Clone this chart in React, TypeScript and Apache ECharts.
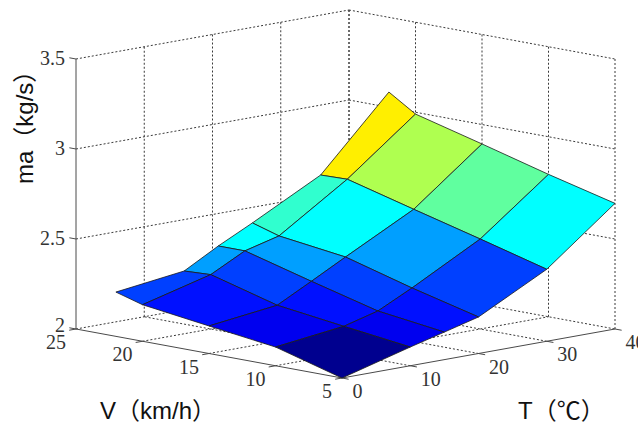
import React, { useEffect, useRef } from "react";
import * as echarts from "echarts";

// Data
const temperatures = [0, 10, 15, 20, 30, 40];
const speeds = [5, 10, 15, 20, 22];
const massFlowAtV5 = [2.0, 2.104, 2.153, 2.203, 2.4, 2.698];
const massFlowAtV10 = [2.104, 2.151, 2.202, 2.296, 2.5, 2.791];
const massFlowAtV15 = [2.153, 2.2, 2.299, 2.4, 2.597, 2.892];
const massFlowAtV20 = [2.203, 2.302, 2.4, 2.449, 2.696, 2.99];
const massFlowAtV22 = [2.246, 2.295, 2.4, 2.494, 2.692, 3.085];
const massFlow = [massFlowAtV5, massFlowAtV10, massFlowAtV15, massFlowAtV20, massFlowAtV22];

const tTicks = [0, 10, 20, 30, 40];
const vTicks = [5, 10, 15, 20, 25];
const zTicks = [2, 2.5, 3, 3.5];
const zTickLabels = ["2", "2.5", "3", "3.5"];
const zLabel = "ma（kg/s）";
const vLabel = "V（km/h）";
const tLabel = "T（℃）";

// View (camera) of the 3D box
const COLOR_MIN = 2;
const COLOR_MAX = 3.1;
const project = (t: number, v: number, z: number): number[] => [
  342 + 6.825 * t - 13.3 * (v - 5),
  378 - 1.225 * t - 2.45 * (v - 5) - 180 * (z - 2),
];

const jet = (value: number): string => {
  const n = 64;
  const idx = Math.min(n, Math.floor(((value - COLOR_MIN) / (COLOR_MAX - COLOR_MIN)) * n) + 1);
  const c = (x: number) => Math.max(0, Math.min(1, x));
  const p = idx / n;
  const r = c(Math.min(4 * p - 1.5, 4.5 - 4 * p));
  const g = c(Math.min(4 * p - 0.5, 3.5 - 4 * p));
  const b = c(Math.min(4 * p + 0.5, 2.5 - 4 * p));
  return `rgb(${Math.round(r * 255)},${Math.round(g * 255)},${Math.round(b * 255)})`;
};

const serif = "Liberation Serif";
const sans = "Liberation Sans, Noto Sans CJK SC, sans-serif";
const GRID_COLOR = "#3a3a3a";
const AXIS_COLOR = "#4a4a4a";

export default function App() {
  const ref = useRef<HTMLDivElement>(null);
  useEffect(() => {
    document.body.style.margin = "0";
    const chart = echarts.init(ref.current!, undefined, { renderer: "svg" });

    // surface cells, back to front
    const cells: number[][] = [];
    for (let j = speeds.length - 2; j >= 0; j--) {
      for (let i = temperatures.length - 2; i >= 0; i--) cells.push([i, j]);
    }

    // dotted box grid
    const T0 = tTicks[0], T1 = tTicks[tTicks.length - 1];
    const V0 = vTicks[0], V1 = vTicks[vTicks.length - 1];
    const Z0 = zTicks[0], Z1 = zTicks[zTicks.length - 1];
    const gridSegs: number[][] = [];
    tTicks.forEach((t) => {
      if (t !== T0 && t !== T1) gridSegs.push([t, V0, Z0, t, V1, Z0]);
      if (t !== T0) gridSegs.push([t, V1, Z0, t, V1, Z1]);
    });
    vTicks.forEach((v) => {
      if (v !== V0 && v !== V1) gridSegs.push([T0, v, Z0, T1, v, Z0]);
      gridSegs.push([T1, v, Z0, T1, v, Z1]);
    });
    zTicks.forEach((z) => {
      gridSegs.push([T0, V1, z, T1, V1, z]);
      gridSegs.push([T1, V1, z, T1, V0, z]);
    });

    // solid axes and tick marks
    const axisSegs: number[][] = [
      [T0, V1, Z0, T0, V1, Z1],
      [T0, V1, Z0, T0, V0, Z0],
      [T0, V0, Z0, T1, V0, Z0],
    ];
    zTicks.forEach((z) => axisSegs.push([T0, V1, z, T0, V1 + 0.5, z]));
    vTicks.forEach((v) => axisSegs.push([T0, v, Z0, T0 - 1, v, Z0]));
    tTicks.forEach((t) => axisSegs.push([t, V0, Z0, t, V0 - 0.5, Z0]));

    const segRenderer = (stroke: string, dash: number[] | null) => (_: any, api: any) => {
      const a = api.coord(project(api.value(0), api.value(1), api.value(2)));
      const b = api.coord(project(api.value(3), api.value(4), api.value(5)));
      return {
        type: "line",
        shape: { x1: a[0], y1: a[1], x2: b[0], y2: b[1] },
        style: { stroke, lineWidth: 1, lineDash: dash || undefined, fill: null },
      };
    };

    type Lbl = { text: string; pos: number[]; dx: number; dy: number; align: string };
    const labels: Lbl[] = [
      ...zTicks.map((z, i) => ({
        text: zTickLabels[i],
        pos: [T0, V1, z],
        dx: -11,
        dy: z === Z0 ? -4 : -1.5,
        align: "right",
      })),
      ...vTicks.map((v) => ({ text: String(v), pos: [T0, v, Z0], dx: -10, dy: 13, align: "right" })),
      ...tTicks.map((t) => ({ text: String(t), pos: [t, V0, Z0], dx: 10.5, dy: 13, align: "left" })),
    ];

    const lineSeries = (name: string, data: number[][], stroke: string, dash: number[] | null, z: number) => ({
      type: "custom",
      name,
      coordinateSystem: "cartesian2d",
      silent: true,
      clip: false,
      z,
      data,
      renderItem: segRenderer(stroke, dash),
    });

    chart.setOption({
      animation: false,
      backgroundColor: "#ffffff",
      grid: { left: 0, right: 0, top: 0, bottom: 0 },
      xAxis: { type: "value", min: 0, max: 638, show: false },
      yAxis: { type: "value", min: 0, max: 423, inverse: true, show: false },
      series: [
        lineSeries("grid", gridSegs, GRID_COLOR, [2, 2], 1),
        lineSeries("axes", axisSegs, AXIS_COLOR, null, 2),
        {
          type: "custom",
          name: "surface",
          coordinateSystem: "cartesian2d",
          silent: true,
          clip: false,
          z: 3,
          data: cells,
          renderItem: (_: any, api: any) => {
            const i = api.value(0);
            const j = api.value(1);
            const corners = [
              [i, j],
              [i + 1, j],
              [i + 1, j + 1],
              [i, j + 1],
            ];
            const points = corners.map(([a, b]) =>
              api.coord(project(temperatures[a], speeds[b], massFlow[b][a]))
            );
            return {
              type: "polygon",
              shape: { points },
              style: { fill: jet(massFlow[j][i]), stroke: "#1a1a1a", lineWidth: 0.8 },
            };
          },
        },
      ],
      graphic: [
        ...labels.map((l) => {
          const p = project(l.pos[0], l.pos[1], l.pos[2]);
          return {
            type: "text",
            x: p[0] + l.dx,
            y: p[1] + l.dy,
            z: 10,
            style: {
              text: l.text,
              align: l.align,
              verticalAlign: "middle",
              font: `20px ${serif}`,
              fill: "#333333",
            },
          };
        }),
        {
          type: "text",
          x: 24,
          y: 184,
          rotation: Math.PI / 2,
          style: { text: zLabel, align: "left", verticalAlign: "middle", font: `24px ${sans}`, fill: "#111111" },
        },
        {
          type: "text",
          x: 100,
          y: 410,
          style: { text: vLabel, align: "left", verticalAlign: "middle", font: `24px ${sans}`, fill: "#111111" },
        },
        {
          type: "text",
          x: 518,
          y: 410,
          style: { text: tLabel, align: "left", verticalAlign: "middle", font: `24px ${sans}`, fill: "#111111" },
        },
      ],
    });
    return () => chart.dispose();
  }, []);
  return <div ref={ref} style={{ width: 638, height: 423 }} />;
}
